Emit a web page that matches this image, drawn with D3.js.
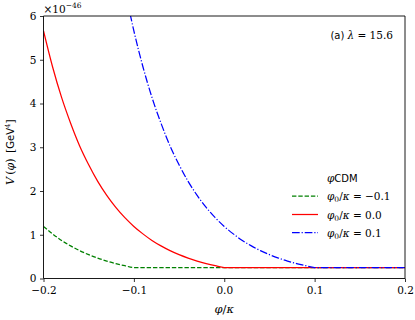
<!DOCTYPE html>
<html><head><meta charset="utf-8">
<script src="https://cdn.jsdelivr.net/npm/d3@7"></script>
<style>body{margin:0;background:#fff}svg{display:block}</style>
</head><body>
<svg id="c" width="415" height="320"></svg>
<script>
// Data (values in units of 1e-46 GeV^4)
const phi = [-0.2,-0.19,-0.18,-0.17,-0.16,-0.15,-0.14,-0.13,-0.12,-0.11,-0.1,-0.09,-0.08,-0.07,-0.06,-0.05,-0.04,-0.03,-0.02,-0.01,0.0,0.01,0.02,0.03,0.04,0.05,0.06,0.07,0.08,0.09,0.1,0.11,0.12,0.13,0.14,0.15,0.16,0.17,0.18,0.19,0.2];
const greenVals = [1.19,1.02,0.87,0.745,0.637,0.545,0.467,0.399,0.341,0.292,0.25,0.25,0.25,0.25,0.25,0.25,0.25,0.25,0.25,0.25,0.25,0.25,0.25,0.25,0.25,0.25,0.25,0.25,0.25,0.25,0.25,0.25,0.25,0.25,0.25,0.25,0.25,0.25,0.25,0.25,0.25];
const redVals = [5.66,4.84,4.14,3.55,3.03,2.6,2.22,1.9,1.625,1.39,1.19,1.02,0.87,0.745,0.637,0.545,0.467,0.399,0.341,0.292,0.25,0.25,0.25,0.25,0.25,0.25,0.25,0.25,0.25,0.25,0.25,0.25,0.25,0.25,0.25,0.25,0.25,0.25,0.25,0.25,0.25];
const blueVals = [null,null,null,null,null,null,null,null,null,6.62,5.66,4.84,4.14,3.55,3.03,2.6,2.22,1.9,1.625,1.39,1.19,1.02,0.87,0.745,0.637,0.545,0.467,0.399,0.341,0.292,0.25,0.25,0.25,0.25,0.25,0.25,0.25,0.25,0.25,0.25,0.25];
const xTicks = [-0.2,-0.1,0.0,0.1,0.2];
const yTicks = [0,1,2,3,4,5,6];
const legendLabels = ["\u22120.1","0.0","0.1"];

const svg = d3.select("#c");
const L = 43.5, R = 405, T = 16, B = 278.5;
const x = d3.scaleLinear().domain([-0.2,0.2]).range([L,R]);
const y = d3.scaleLinear().domain([0,6]).range([B,T]);
const serif = "DejaVu Serif";
const sans = "DejaVu Sans";

svg.append("clipPath").attr("id","clip").append("rect")
  .attr("x",L).attr("y",T).attr("width",R-L).attr("height",B-T);

const series = [
  {vals: greenVals, color:"#008000", dash:"4.4,1.9"},
  {vals: redVals, color:"#ff0000", dash:null},
  {vals: blueVals, color:"#0000ff", dash:"7.7,1.9,1.2,1.9"}
];
const line = d3.line().defined(d=>d[1]!=null).x(d=>x(d[0])).y(d=>y(d[1])).curve(d3.curveMonotoneX);
const g = svg.append("g").attr("clip-path","url(#clip)");
series.forEach(s=>{
  g.append("path").datum(phi.map((p,i)=>[p,s.vals[i]]))
   .attr("d",line).attr("fill","none").attr("stroke",s.color)
   .attr("stroke-width",1.25).attr("stroke-dasharray",s.dash);
});

// axes
const xa = svg.append("g").attr("transform",`translate(0,${B})`)
  .call(d3.axisBottom(x).tickValues(xTicks).tickSize(3.5).tickPadding(5).tickFormat(d=>d3.format(".1f")(d).replace("-","\u2212")));
const ya = svg.append("g").attr("transform",`translate(${L},0)`)
  .call(d3.axisLeft(y).tickValues(yTicks).tickSize(3.5).tickPadding(3.5).tickFormat(d3.format("d")));
[xa,ya].forEach(a=>{
  a.attr("font-family",serif).attr("font-size",10.5);
  a.select(".domain").remove();
  a.selectAll("line").attr("stroke","#000").attr("stroke-width",0.8);
  a.selectAll("text").style("font-family",serif).style("font-size","10.5px").attr("fill","#000");
});
// spines
svg.append("line").attr("x1",L).attr("x2",L).attr("y1",T).attr("y2",B).attr("stroke","#000").attr("stroke-width",0.9);
svg.append("line").attr("x1",L).attr("x2",R).attr("y1",B).attr("y2",B).attr("stroke","#000").attr("stroke-width",0.9);
svg.append("line").attr("x1",L).attr("x2",R).attr("y1",T).attr("y2",T).attr("stroke","#000").attr("stroke-width",0.9);
svg.append("line").attr("x1",R).attr("x2",R).attr("y1",T).attr("y2",B).attr("stroke","#000").attr("stroke-width",0.9);

// offset text
const off = svg.append("text").attr("x",L).attr("y",13).style("font-family",serif).style("font-size","10.5px");
off.append("tspan").text("\u00d710");
off.append("tspan").attr("dy",-5).style("font-size","7.5px").text("\u221246");

// x label
const xl = svg.append("text").attr("x",(L+R)/2).attr("y",313).attr("text-anchor","middle")
  .style("font-family",serif).style("font-size","11.5px");
xl.append("tspan").style("font-style","italic").text("\u03c6");
xl.append("tspan").text("/");
xl.append("tspan").style("font-style","italic").text("\u03ba");

// y label
const yl = svg.append("text").attr("transform","translate(14,152) rotate(-90)").attr("text-anchor","middle")
  .style("font-size","11px").style("font-family",serif);
yl.append("tspan").style("font-style","italic").text("V");
yl.append("tspan").text("\u2009(");
yl.append("tspan").style("font-style","italic").text("\u03c6");
yl.append("tspan").text(")\u2002[");
yl.append("tspan").style("font-family",sans).style("font-size","10px").text("GeV");
yl.append("tspan").style("font-size","7px").attr("dy",-4).text("4");
yl.append("tspan").attr("dy",4).text("]");

// annotation
const an = svg.append("text").attr("x",393).attr("y",39).attr("text-anchor","end").style("font-size","10.5px");
an.append("tspan").style("font-family",sans).style("font-size","10px").text("(a) ");
an.append("tspan").style("font-family",serif).style("font-style","italic").text("\u03bb");
an.append("tspan").style("font-family",serif).text(" = 15.6");

// legend
const lt = svg.append("text").attr("x",327).attr("y",182).style("font-size","10.5px");
lt.append("tspan").style("font-family",serif).style("font-style","italic").text("\u03c6");
lt.append("tspan").style("font-family",sans).style("font-size","10px").text("CDM");
const ly = [196,214.5,232.5];
series.forEach((s,i)=>{
  svg.append("line").attr("x1",292).attr("x2",318).attr("y1",ly[i]).attr("y2",ly[i])
    .attr("stroke",s.color).attr("stroke-width",1.25).attr("stroke-dasharray",s.dash);
  const t = svg.append("text").attr("x",327).attr("y",ly[i]+4).style("font-family",serif).style("font-size","10.5px");
  t.append("tspan").style("font-style","italic").text("\u03c6");
  t.append("tspan").style("font-size","7.5px").attr("dy",2).text("0");
  t.append("tspan").attr("dy",-2).text("/");
  t.append("tspan").style("font-style","italic").text("\u03ba");
  t.append("tspan").text(" = " + legendLabels[i]);
});
</script>
</body></html>
